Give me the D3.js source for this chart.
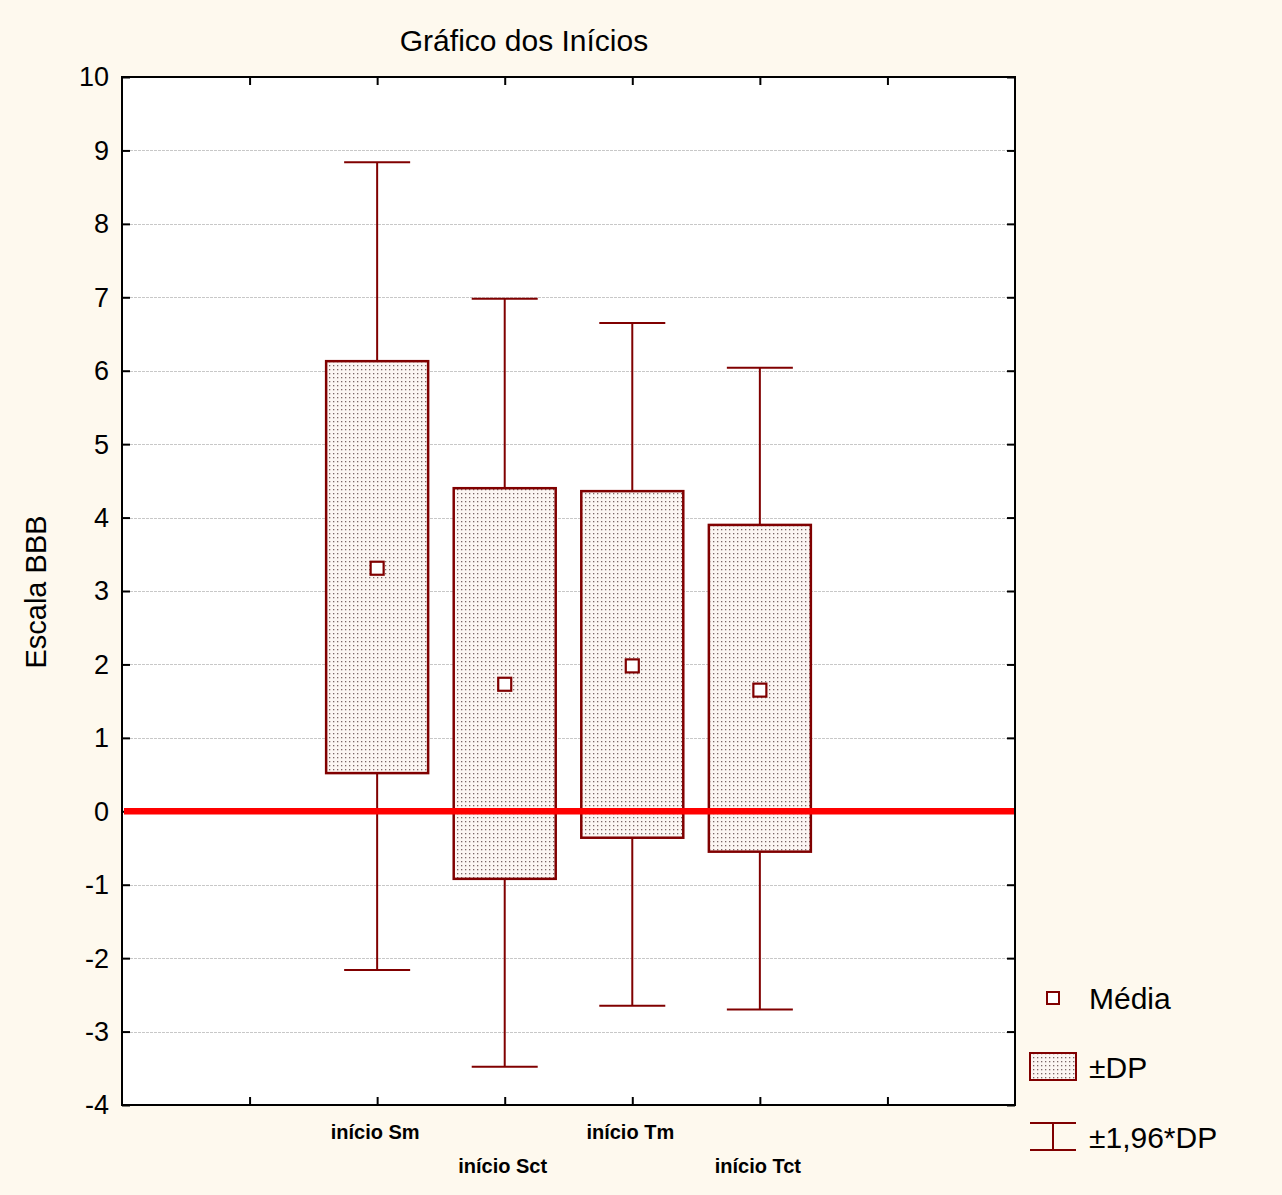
<!DOCTYPE html>
<html><head><meta charset="utf-8">
<script src="https://cdn.jsdelivr.net/npm/d3@7"></script>
<style>body{margin:0;background:#fef9ee;}svg{display:block;font-family:"Liberation Sans",Arial,sans-serif;}</style>
</head><body>
<script>
const categories = ["início Sm","início Sct","início Tm","início Tct"];
const means      = [3.31, 1.73, 1.98, 1.65];
const sdLow      = [0.52, -0.92, -0.36, -0.55];
const sdHigh     = [6.13, 4.40, 4.36, 3.90];
const ciLow      = [-2.16, -3.48, -2.65, -2.70];
const ciHigh     = [8.84, 6.98, 6.65, 6.04];
const yTicks     = [-4,-3,-2,-1,0,1,2,3,4,5,6,7,8,9,10];
const legendLabels = ["Média","±DP","±1,96*DP"];

const W=1282,H=1195;
const m={l:122,r:1015,t:77,b:1105};
const svg=d3.select("body").append("svg").attr("width",W).attr("height",H);
svg.append("rect").attr("width",W).attr("height",H).attr("fill","#fef9ee");

const defs=svg.append("defs");
const pat=defs.append("pattern").attr("id","dots").attr("patternUnits","userSpaceOnUse")
  .attr("width",4).attr("height",4);
pat.append("rect").attr("width",4).attr("height",4).attr("fill","#fcf6f3");
pat.append("rect").attr("x",1).attr("y",1).attr("width",1.3).attr("height",1.3).attr("fill","#7a6666");

const x=d3.scaleLinear().domain([0,categories.length+3]).range([m.l,m.r]);
const y=d3.scaleLinear().domain([-4,10]).range([m.b,m.t]);
const pos=i=>x(i+2);

svg.append("rect").attr("x",m.l).attr("y",m.t).attr("width",m.r-m.l).attr("height",m.b-m.t).attr("fill","#fff");

// grid
svg.append("g").selectAll("line").data(yTicks.filter(v=>v>-4&&v<10)).join("line")
  .attr("x1",m.l).attr("x2",m.r).attr("y1",d=>Math.round(y(d))+0.5).attr("y2",d=>Math.round(y(d))+0.5)
  .attr("stroke","#c8c8c8").attr("stroke-width",1).attr("stroke-dasharray","3,1");

// axes (inward ticks)
const yl=svg.append("g").attr("transform",`translate(${m.l},0)`)
  .call(d3.axisRight(y).tickValues(yTicks).tickSize(8).tickFormat(""));
const yr=svg.append("g").attr("transform",`translate(${m.r},0)`)
  .call(d3.axisLeft(y).tickValues(yTicks).tickSize(8).tickFormat(""));
const xt=d3.range(1,categories.length+3);
const xb=svg.append("g").attr("transform",`translate(0,${m.b})`)
  .call(d3.axisTop(x).tickValues(xt).tickSize(8).tickFormat(""));
const xtp=svg.append("g").attr("transform",`translate(0,${m.t})`)
  .call(d3.axisBottom(x).tickValues(xt).tickSize(8).tickFormat(""));
[yl,yr,xb,xtp].forEach(g=>{g.select(".domain").remove();g.selectAll("line").attr("stroke","#000").attr("stroke-width",2);});

// y tick labels
svg.append("g").selectAll("text").data(yTicks).join("text")
  .attr("x",109).attr("y",d=>y(d)).attr("dy","0.35em").attr("text-anchor","end")
  .attr("font-size",27).attr("fill","#000").text(d=>d);

// whiskers
const bw=102, cw=66;
const g=svg.append("g").attr("stroke","#800000").attr("stroke-width",2).attr("fill","none");
categories.forEach((c,i)=>{
  const cx=pos(i);
  g.append("line").attr("x1",cx).attr("x2",cx).attr("y1",y(ciHigh[i])).attr("y2",y(sdHigh[i]));
  g.append("line").attr("x1",cx).attr("x2",cx).attr("y1",y(sdLow[i])).attr("y2",y(ciLow[i]));
  g.append("line").attr("x1",cx-cw/2).attr("x2",cx+cw/2).attr("y1",y(ciHigh[i])).attr("y2",y(ciHigh[i]));
  g.append("line").attr("x1",cx-cw/2).attr("x2",cx+cw/2).attr("y1",y(ciLow[i])).attr("y2",y(ciLow[i]));
  g.append("rect").attr("x",cx-bw/2).attr("y",y(sdHigh[i])).attr("width",bw)
   .attr("height",y(sdLow[i])-y(sdHigh[i])).attr("fill","url(#dots)").attr("stroke-width",2.5);
});

// zero line
svg.append("line").attr("x1",m.l+2).attr("x2",m.r).attr("y1",y(0)).attr("y2",y(0))
  .attr("stroke","#ff0000").attr("stroke-width",6.5);

// means
categories.forEach((c,i)=>{
  svg.append("rect").attr("x",pos(i)-6.5).attr("y",y(means[i])-6.5).attr("width",13).attr("height",13)
   .attr("fill","#fff").attr("stroke","#800000").attr("stroke-width",2.2);
});

// frame
svg.append("rect").attr("x",m.l).attr("y",m.t).attr("width",m.r-m.l).attr("height",m.b-m.t)
  .attr("fill","none").attr("stroke","#000").attr("stroke-width",2);

// x labels
svg.append("g").selectAll("text").data(categories).join("text")
  .attr("x",(d,i)=>pos(i)-2).attr("y",(d,i)=>i%2===0?1139:1173).attr("text-anchor","middle")
  .attr("font-size",20).attr("font-weight","bold").attr("fill","#000").text(d=>d);

// title
svg.append("text").attr("x",524).attr("y",51).attr("text-anchor","middle").attr("font-size",30)
  .attr("fill","#000").text("Gráfico dos Inícios");
// y label
svg.append("text").attr("transform","translate(46,592) rotate(-90)").attr("text-anchor","middle")
  .attr("font-size",29).attr("fill","#000").text("Escala BBB");

// legend
const lg=svg.append("g");
lg.append("rect").attr("x",1047).attr("y",992).attr("width",12).attr("height",12)
  .attr("fill","#fff").attr("stroke","#800000").attr("stroke-width",2);
lg.append("rect").attr("x",1030).attr("y",1053).attr("width",46).attr("height",27)
  .attr("fill","url(#dots)").attr("stroke","#800000").attr("stroke-width",2);
lg.append("line").attr("x1",1030).attr("x2",1076).attr("y1",1123).attr("y2",1123).attr("stroke","#800000").attr("stroke-width",2);
lg.append("line").attr("x1",1030).attr("x2",1076).attr("y1",1150).attr("y2",1150).attr("stroke","#800000").attr("stroke-width",2);
lg.append("line").attr("x1",1053).attr("x2",1053).attr("y1",1123).attr("y2",1150).attr("stroke","#800000").attr("stroke-width",2);
lg.selectAll("text").data(legendLabels).join("text")
  .attr("x",1089).attr("y",(d,i)=>[998,1067,1137][i]).attr("dy","0.35em")
  .attr("font-size",30).attr("fill","#000").text(d=>d);
</script>
</body></html>
